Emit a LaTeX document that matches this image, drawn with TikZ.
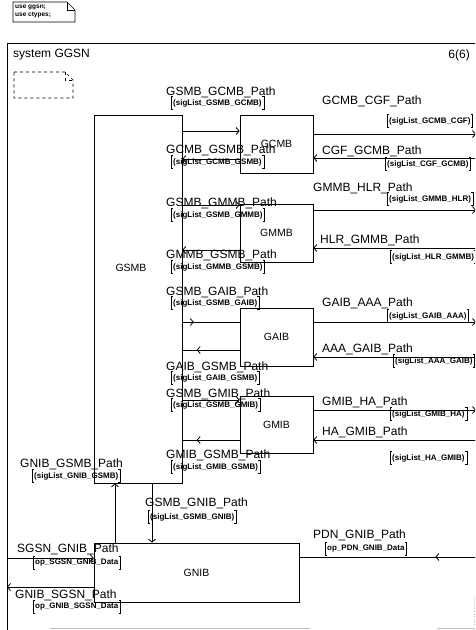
\documentclass[tikz,border=0pt]{standalone}
\usepackage{fontspec}
\setmainfont{Liberation Sans}
\usetikzlibrary{arrows.meta,decorations.markings}

\begin{document}
\begin{tikzpicture}[
    x=1pt, y=-1pt,
    blk/.style={draw, line width=0.7pt, inner sep=0pt, font=\fontsize{10.5}{12}\selectfont},
    chname/.style={font=\fontsize{12}{13}\selectfont, inner sep=0pt, anchor=west},
    lbrk/.style={draw, line width=0.6pt, to path={++(2pt,0) -- (\tikztostart) -- (\tikztotarget) -- ++(2pt,0)}},
    rbrk/.style={draw, line width=0.6pt, to path={++(-2pt,0) -- (\tikztostart) -- (\tikztotarget) -- ++(-2pt,0)}},
    sig/.style={font=\fontsize{8}{8.5}\selectfont\bfseries, inner xsep=2pt, inner ysep=2.5pt, anchor=west,
        append after command={(\tikzlastnode.north west) edge[lbrk] (\tikzlastnode.south west)
                              (\tikzlastnode.north east) edge[rbrk] (\tikzlastnode.south east)}},
    ch/.style={line width=0.8pt, -{Straight Barb[length=3pt,width=7pt]}},
    chmid/.style={line width=0.8pt, postaction=decorate,
        decoration={markings, mark=at position #1 with {\arrow{Straight Barb[length=3pt,width=7pt]}}}}
]
    \useasboundingbox (0,0) rectangle (475,630);
    \clip (0,0) rectangle (475,630);

    % package reference
    \draw[line width=0.6pt] (13,2) -- (67,2) -- (75,10) -- (75,22) -- (13,22) -- cycle;
    \draw[line width=0.6pt] (67,2) -- (67,10) -- (75,10);
    \node[font=\fontsize{6.5}{7.5}\selectfont\bfseries, align=left, anchor=north west, inner sep=0pt] (uses) at (15,5) {use ggsn;\\use ctypes;};

    % system frame
    \draw[line width=0.8pt] (7,630) -- (7,43) -- (480,43);
    \draw[gray!50, line width=0.6pt] (50,628) -- (310,628) (437,628) -- (475,628);
    \draw[gray!50, line width=0.6pt, dotted] (474,598) -- (474,625);
    \node[chname] (sysname) at (13,55) {system GGSN};
    \node[chname, anchor=east] (pagenum) at (470,55) {6(6)};
    \draw[dashed, line width=0.6pt] (14,72) -- (65,72) -- (73,80) -- (73,98) -- (14,98) -- cycle;
    \draw[dashed, line width=0.6pt] (65,72) -- (65,80) -- (73,80);
    \coordinate (envl) at (7,0);
    \coordinate (envr) at (476,0);

    % blocks
    \node[blk, minimum width=88pt, minimum height=368pt,
          label={[font=\fontsize{10.5}{12}\selectfont, xshift=-7pt, yshift=31pt]center:GSMB}] (gsmb) at (138,299) {};
    \node[blk, minimum width=73pt, minimum height=58pt] (gcmb) at (276.5,144) {GCMB};
    \node[blk, minimum width=73pt, minimum height=58pt] (gmmb) at (276.5,233) {GMMB};
    \node[blk, minimum width=73pt, minimum height=58pt] (gaib) at (276.5,337) {GAIB};
    \node[blk, minimum width=73pt, minimum height=57pt] (gmib) at (276.5,424.5) {GMIB};
    \node[blk, minimum width=205pt, minimum height=59pt] (gnib) at (196.5,572.5) {GNIB};

    % GSMB <-> GCMB, CGF
    \draw[ch] (gsmb.east |- 0,131) -- (gcmb.west |- 0,131);
    \draw[ch] (gcmb.west |- 0,159) -- (gsmb.east |- 0,159);
    \draw[ch] (gcmb.east |- 0,134) -- (envr |- 0,134);
    \draw[ch] (envr |- 0,158) -- (gcmb.east |- 0,158);
    \node[chname] (l1) at (166,92) {GSMB\_GCMB\_Path};
    \node[sig] (s1) at (171,103) {(sigList\_GSMB\_GCMB)};
    \node[chname] (l2) at (166,150) {GCMB\_GSMB\_Path};
    \node[sig] (s2) at (171,162) {(sigList\_GCMB\_GSMB)};
    \node[chname] (l3) at (322,101) {GCMB\_CGF\_Path};
    \node[sig] (s3) at (387,121) {(sigList\_GCMB\_CGF)};
    \node[chname] (l4) at (322,151) {CGF\_GCMB\_Path};
    \node[sig] (s4) at (385,164) {(sigList\_CGF\_GCMB)};

    % GSMB <-> GMMB, HLR
    \draw[ch] (gsmb.east |- 0,205) -- (gmmb.west |- 0,205);
    \draw[ch] (gmmb.west |- 0,250) -- (gsmb.east |- 0,250);
    \draw[ch] (gmmb.east |- 0,210) -- (envr |- 0,210);
    \draw[ch] (envr |- 0,248) -- (gmmb.east |- 0,248);
    \node[chname] (l5) at (166,203) {GSMB\_GMMB\_Path};
    \node[sig] (s5) at (171,215) {(sigList\_GSMB\_GMMB)};
    \node[chname] (l6) at (166,255) {GMMB\_GSMB\_Path};
    \node[sig] (s6) at (171,267) {(sigList\_GMMB\_GSMB)};
    \node[chname] (l7) at (313,188) {GMMB\_HLR\_Path};
    \node[sig] (s7) at (387,199) {(sigList\_GMMB\_HLR)};
    \node[chname] (l8) at (320,240) {HLR\_GMMB\_Path};
    \node[sig] (s8) at (390,257) {(sigList\_HLR\_GMMB)};

    % GSMB <-> GAIB, AAA
    \draw[chmid=0.2] (gsmb.east |- 0,322) -- (gaib.west |- 0,322);
    \draw[chmid=0.75] (gaib.west |- 0,350) -- (gsmb.east |- 0,350);
    \draw[ch] (gaib.east |- 0,322) -- (envr |- 0,322);
    \draw[ch] (envr |- 0,357) -- (gaib.east |- 0,357);
    \node[chname] (l9) at (166,292) {GSMB\_GAIB\_Path};
    \node[sig] (s9) at (171,303) {(sigList\_GSMB\_GAIB)};
    \node[chname] (l10) at (166,367) {GAIB\_GSMB\_Path};
    \node[sig] (s10) at (171,378) {(sigList\_GAIB\_GSMB)};
    \node[chname] (l11) at (322,303) {GAIB\_AAA\_Path};
    \node[sig] (s11) at (387,316) {(sigList\_GAIB\_AAA)};
    \node[chname] (l12) at (322,349) {AAA\_GAIB\_Path};
    \node[sig] (s12) at (393,361) {(sigList\_AAA\_GAIB)};

    % GSMB <-> GMIB, HA
    \draw[ch] (gsmb.east |- 0,400) -- (gmib.west |- 0,400);
    \draw[chmid=0.75] (gmib.west |- 0,440) -- (gsmb.east |- 0,440);
    \draw[ch] (gmib.east |- 0,410) -- (envr |- 0,410);
    \draw[ch] (envr |- 0,440) -- (gmib.east |- 0,440);
    \node[chname] (l13) at (166,394) {GSMB\_GMIB\_Path};
    \node[sig] (s13) at (171,405) {(sigList\_GSMB\_GMIB)};
    \node[chname] (l14) at (166,455) {GMIB\_GSMB\_Path};
    \node[sig] (s14) at (171,467) {(sigList\_GMIB\_GSMB)};
    \node[chname] (l15) at (322,402) {GMIB\_HA\_Path};
    \node[sig] (s15) at (390,414) {(sigList\_GMIB\_HA)};
    \node[chname] (l16) at (322,432) {HA\_GMIB\_Path};
    \node[sig] (s16) at (390,458) {(sigList\_HA\_GMIB)};

    % GSMB <-> GNIB
    \draw[ch] (gnib.north -| 115,0) -- (gsmb.south -| 115,0);
    \draw[ch] (gsmb.south -| 152,0) -- (gnib.north -| 152,0);
    \node[chname] (l17) at (20,464) {GNIB\_GSMB\_Path};
    \node[sig] (s17) at (32,476) {(sigList\_GNIB\_GSMB)};
    \node[chname] (l18) at (145,503) {GSMB\_GNIB\_Path};
    \node[sig] (s18) at (148,517) {(sigList\_GSMB\_GNIB)};

    % GNIB <-> SGSN, PDN
    \draw[ch] (envl |- 0,558) -- (gnib.west |- 0,558);
    \draw[ch] (gnib.west |- 0,587) -- (envl |- 0,587);
    \draw[chmid=0.23] (envr |- 0,557) -- (gnib.east |- 0,557);
    \node[chname] (l19) at (17,549) {SGSN\_GNIB\_Path};
    \node[sig] (s19) at (33,563) {op\_SGSN\_GNIB\_Data};
    \node[chname] (l20) at (15,595) {GNIB\_SGSN\_Path};
    \node[sig] (s20) at (33,607) {op\_GNIB\_SGSN\_Data};
    \node[chname] (l21) at (313,535) {PDN\_GNIB\_Path};
    \node[sig] (s21) at (325,549) {op\_PDN\_GNIB\_Data};
\end{tikzpicture}
\end{document}
